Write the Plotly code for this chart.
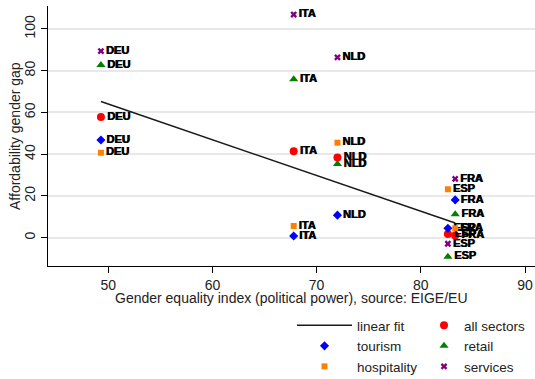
import numpy as np
import plotly.graph_objects as go

# Countries and their gender equality index (political power)
countries = ["DEU", "ITA", "NLD", "FRA", "ESP"]
equality_index = [49.3, 67.8, 72.0, 83.3, 82.6]

# Affordability gender gap by sector
gap_all_sectors = [57.8, 41.4, 38.4, 1.0, 1.8]
gap_tourism = [46.8, 0.8, 10.8, 18.1, 4.5]
gap_hospitality = [40.7, 5.6, 45.5, 4.5, 23.2]
gap_retail = [82.7, 75.9, 35.3, 11.2, -9.1]
gap_services = [89.4, 106.9, 86.4, 28.2, -2.9]

x_ticks = [50, 60, 70, 80, 90]
y_ticks = [0, 20, 40, 60, 80, 100]

x_title = "Gender equality index (political power), source: EIGE/EU"
y_title = "Affordability gender gap"

# Linear fit of the all-sector gap on the index
slope, intercept = np.polyfit(equality_index, gap_all_sectors, 1)
fit_x = np.array([min(equality_index), max(equality_index)])
fit_y = intercept + slope * fit_x

label_font = dict(family="Liberation Sans", size=11, color="black",
                  weight="bold", shadow="0.8px 0px 0px black")

fig = go.Figure()

fig.add_trace(go.Scatter(
    x=fit_x, y=fit_y, mode="lines", name="linear fit",
    line=dict(color="#1a1a1a", width=1.5), legend="legend"))

series = [
    ("all sectors", gap_all_sectors, "circle", 8, "#ff0000", "legend2"),
    ("tourism", gap_tourism, "diamond", 7, "#0000ff", "legend"),
    ("retail", gap_retail, "triangle-up", 8, "#008000", "legend2"),
    ("hospitality", gap_hospitality, "square", 6, "#ff8000", "legend"),
    ("services", gap_services, "x", 6, "#800080", "legend2"),
]
for name, vals, sym, size, col, leg in series:
    fig.add_trace(go.Scatter(
        x=equality_index, y=vals, mode="markers+text", name=name,
        text=countries, textposition="middle right", textfont=label_font,
        marker=dict(symbol=sym, size=size, color=col, line=dict(width=0)),
        legend=leg))

axis_font = dict(family="Liberation Sans", size=14, color="#222222")
legend_font = dict(family="Liberation Sans", size=13.5, color="#222222")

fig.update_layout(
    width=535, height=379,
    margin=dict(l=48, r=0, t=6, b=113, autoexpand=False),
    paper_bgcolor="white", plot_bgcolor="white",
    font=axis_font,
    xaxis=dict(
        range=[44.22, 90.96], tickvals=x_ticks, ticks="outside", ticklen=6,
        tickcolor="black", showline=True, linecolor="black", linewidth=1,
        showgrid=False, zeroline=False, tickfont=axis_font),
    yaxis=dict(
        range=[-13.56, 111.0], tickvals=y_ticks, ticks="outside", ticklen=6,
        tickcolor="black", showline=True, linecolor="black", linewidth=1,
        showgrid=True, gridcolor="#e8e8e8", gridwidth=1.5, zeroline=False,
        tickangle=-90, tickfont=axis_font),
    annotations=[
        dict(text=x_title, xref="paper", yref="paper", x=0.5, y=-0.124,
             xanchor="center", yanchor="middle", showarrow=False, font=axis_font),
        dict(text=y_title, xref="paper", yref="paper", x=-0.0678, y=0.5,
             xanchor="center", yanchor="middle", showarrow=False,
             textangle=-90, font=axis_font),
    ],
    legend=dict(
        xref="container", yref="container", x=292 / 535, y=1 - 310 / 379,
        xanchor="left", yanchor="top", orientation="v", font=legend_font,
        itemwidth=55, bgcolor="rgba(0,0,0,0)", tracegroupgap=0),
    legend2=dict(
        xref="container", yref="container", x=424 / 535, y=1 - 310 / 379,
        xanchor="left", yanchor="top", orientation="v", font=legend_font,
        itemwidth=30, bgcolor="rgba(0,0,0,0)", tracegroupgap=0),
    showlegend=True,
)

fig.write_html("out.html")
